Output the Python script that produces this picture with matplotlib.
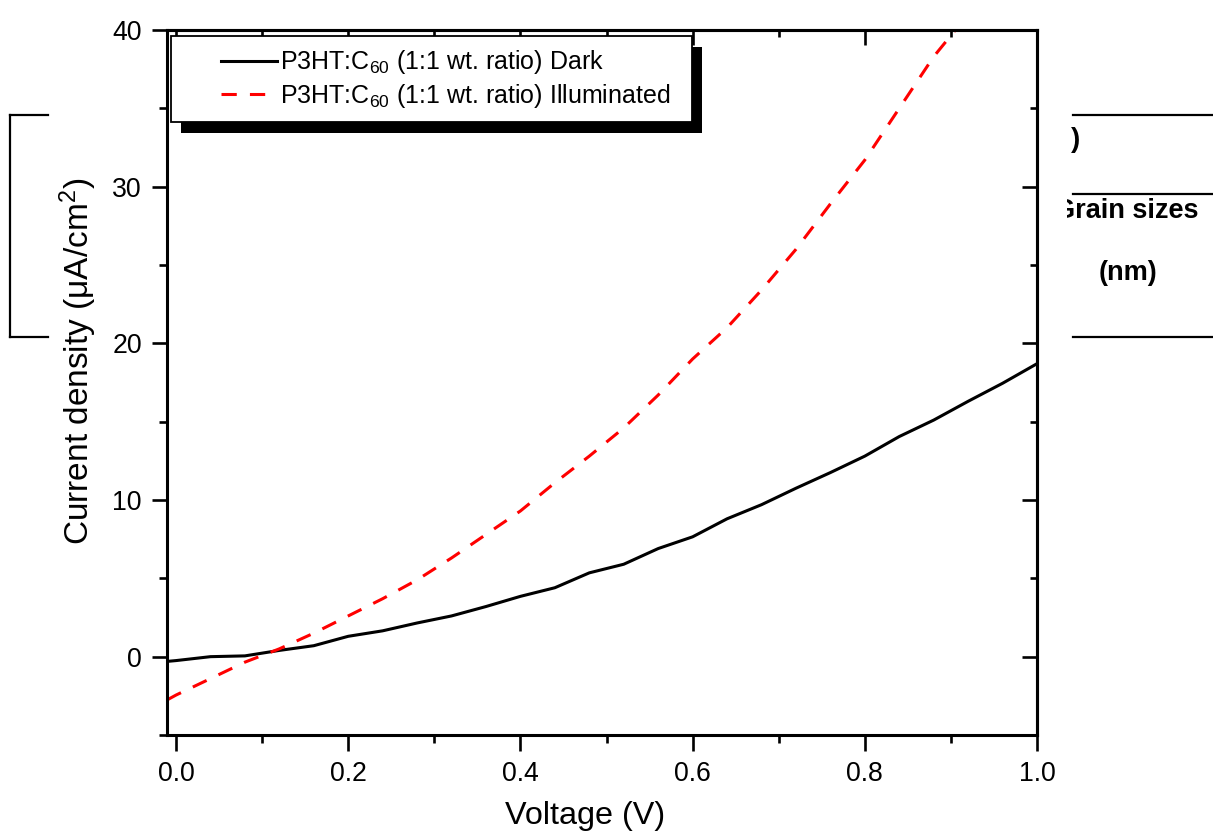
import matplotlib
matplotlib.use("Agg")
import matplotlib.pyplot as plt
from matplotlib.lines import Line2D
from matplotlib.patches import Rectangle
from matplotlib.legend_handler import HandlerLine2D
from matplotlib.ticker import MultipleLocator
from matplotlib.transforms import Bbox

plt.rcParams['font.family'] = ['Liberation Sans', 'DejaVu Sans']
plt.rcParams['mathtext.fontset'] = 'custom'
plt.rcParams['mathtext.rm'] = 'Liberation Sans'
plt.rcParams['mathtext.it'] = 'Liberation Sans:italic'
plt.rcParams['mathtext.bf'] = 'Liberation Sans:bold'

# ---- data ----
dark_v = [-0.01, 0.0, 0.04, 0.08, 0.12, 0.16, 0.20, 0.24, 0.28, 0.32, 0.36, 0.40,
          0.44, 0.48, 0.52, 0.56, 0.60, 0.64, 0.68, 0.72, 0.76, 0.80, 0.84, 0.88,
          0.92, 0.96, 1.00]
dark_j = [-0.3, -0.25, 0.0, 0.05, 0.4, 0.7, 1.3, 1.65, 2.15, 2.6, 3.2, 3.85,
          4.4, 5.35, 5.9, 6.9, 7.65, 8.8, 9.7, 10.75, 11.75, 12.8, 14.05, 15.1,
          16.3, 17.45, 18.7]
illum_v = [-0.01, 0.0, 0.04, 0.08, 0.12, 0.16, 0.20, 0.24, 0.28, 0.32, 0.36, 0.40,
           0.44, 0.48, 0.52, 0.56, 0.60, 0.64, 0.68, 0.72, 0.76, 0.80, 0.84, 0.88,
           0.92]
illum_j = [-2.75, -2.45, -1.4, -0.35, 0.5, 1.5, 2.6, 3.7, 4.9, 6.3, 7.8, 9.3,
           11.1, 12.8, 14.6, 16.7, 19.0, 21.0, 23.4, 26.0, 28.9, 31.7, 35.0, 38.3,
           41.0]
labels = ["P3HT:C$_{60}$ (1:1 wt. ratio) Dark",
          "P3HT:C$_{60}$ (1:1 wt. ratio) Illuminated"]
xticks = [0.0, 0.2, 0.4, 0.6, 0.8, 1.0]
yticks = [0, 10, 20, 30, 40]

W, H = 1213, 836
fig = plt.figure(figsize=(W / 100, H / 100), dpi=100)
L, R, T, B = 167, 1037, 30, 735
ax = fig.add_axes([L / W, 1 - B / H, (R - L) / W, (B - T) / H])

ax.plot(dark_v, dark_j, color='black', lw=2.2, solid_joinstyle='round')
ax.plot(illum_v, illum_j, color='#ff0000', lw=2.2, dashes=(5, 4.3))

ax.set_xlim(-0.0105, 1.0)
ax.set_ylim(-5, 40)
ax.set_xticks(xticks)
ax.set_xticklabels([f"{v:.1f}" for v in xticks])
ax.set_yticks(yticks)
ax.set_yticklabels([str(v) for v in yticks])
ax.xaxis.set_minor_locator(MultipleLocator(0.1))
ax.yaxis.set_minor_locator(MultipleLocator(5))

for s in ax.spines.values():
    s.set_linewidth(2.2)
ax.tick_params(which='both', direction='out', width=1.9, labelsize=19.2,
               bottom=True, left=True, top=False, right=False)
ax.tick_params(which='major', length=11, pad=7)
ax.tick_params(which='minor', length=5.5)
ax.tick_params(axis='x', which='major', length=11.5, pad=7)

# inward ticks on top and right via secondary axes
tx = ax.secondary_xaxis('top')
tx.set_xticks(xticks)
tx.xaxis.set_minor_locator(MultipleLocator(0.1))
tx.tick_params(which='both', direction='in', width=1.9, labeltop=False)
tx.tick_params(which='major', length=10.5)
tx.tick_params(which='minor', length=5.2)
tx.spines['top'].set_linewidth(2.2)
ry = ax.secondary_yaxis('right')
ry.set_yticks(yticks)
ry.yaxis.set_minor_locator(MultipleLocator(5))
ry.tick_params(which='both', direction='in', width=1.9, labelright=False)
ry.tick_params(which='major', length=10.5)
ry.tick_params(which='minor', length=5.2)
ry.spines['right'].set_linewidth(2.2)

ax.set_xlabel("Voltage (V)", fontsize=23.3)
ax.set_ylabel("Current density (μA/cm$^{2}$)", fontsize=24)
ax.xaxis.set_label_coords((585 - L) / (R - L), (B - 801) / (B - T))
ax.yaxis.set_label_coords((99 - L) / (R - L), (B - 361) / (B - T))


class PartialLine(HandlerLine2D):
    def get_xdata(self, legend, xdescent, ydescent, width, height, fontsize):
        x0 = -xdescent + 0.40 * width
        x1 = -xdescent + width
        return [x0, x1], [x0, x1]


handles = ax.get_lines()
lx0 = (171 - L) / (R - L)
ly1 = (B - 36) / (B - T)
lw_ = (692 - 171) / (R - L)
leg = ax.legend(handles, labels, loc='upper left', mode='expand',
                bbox_to_anchor=(lx0, ly1 - 0.01, lw_, 0.01),
                borderaxespad=0, fontsize=18, frameon=True, fancybox=False,
                framealpha=1, edgecolor='black', handlelength=3.75,
                handletextpad=0.12, borderpad=0.5, labelspacing=0.2,
                handler_map={Line2D: PartialLine()})
leg.get_frame().set_linewidth(1.3)
leg.set_zorder(6)

fig.canvas.draw()
bb = leg.get_window_extent()
shadow = Rectangle((bb.x0 + 10, bb.y0 - 11), bb.width, bb.height,
                   transform=None, facecolor='black', edgecolor='none',
                   zorder=5.5, clip_on=False)
ax.add_artist(shadow)


def fx(x):
    return x / W


def fy(y):
    return 1 - y / H


# stray table fragments around the chart
for (x0, x1, y) in [(10, 48, 115), (10, 48, 337), (1073, 1213, 115),
                    (1073, 1213, 194), (1073, 1213, 337)]:
    fig.add_artist(Line2D([fx(x0), fx(x1)], [fy(y), fy(y)],
                          transform=fig.transFigure, color='black', lw=1.6))
fig.add_artist(Line2D([fx(10), fx(10)], [fy(115), fy(337)],
                      transform=fig.transFigure, color='black', lw=1.6))

clip = Bbox.from_extents(1067, 0, W, H)
t1 = fig.text(fx(1080), fy(140), ")", ha='right', va='center',
              fontsize=20, fontweight='bold')
t2 = fig.text(fx(1199), fy(211), "Grain sizes", ha='right', va='center',
              fontsize=19.5, fontweight='bold')
t3 = fig.text(fx(1128), fy(273), "(nm)", ha='center', va='center',
              fontsize=19.5, fontweight='bold')
for t in (t1, t2):
    t.set_clip_box(clip)
    t.set_clip_on(True)

fig.savefig("out.png", dpi=100)
